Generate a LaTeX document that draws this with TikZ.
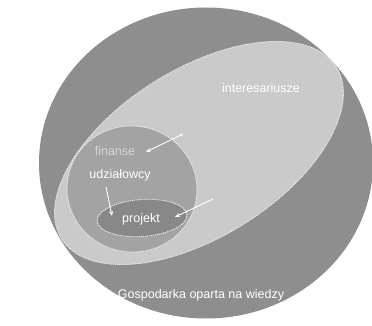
\documentclass[tikz,border=0pt]{standalone}
\usepackage{fontspec}
\setmainfont{Liberation Sans}
\usetikzlibrary{positioning,arrows.meta,shapes.geometric}
\definecolor{economyGray}{HTML}{8E8E8E}
\definecolor{stakeGray}{HTML}{CACACA}
\definecolor{shareGray}{HTML}{A3A3A3}
\definecolor{projectGray}{HTML}{888888}
\definecolor{labelGray}{HTML}{D6D6D6}

\begin{document}
\begin{tikzpicture}[
    x=1pt, y=-1pt,
    zone/.style={ellipse, inner sep=0pt, outer sep=0pt, fill=#1},
    rim/.style={draw=white!92!black, dash pattern=on 1.2pt off 0.8pt, line width=0.9pt},
    label/.style={text=#1, font=\fontsize{12.5}{14}\selectfont, inner sep=1pt},
    label/.default=white,
    arrow/.style={-{Stealth[length=5pt, width=4pt]}, white, line width=0.9pt}
  ]
  \useasboundingbox[fill=white] (0,0) rectangle (372,326);

  % nested regions
  \node[zone=economyGray, minimum width=334pt, minimum height=311pt] (E) at (206,163) {};
  \node[zone=stakeGray, rim, minimum width=324pt, minimum height=168pt, rotate=32] (I) at (199,153) {};
  \node[zone=shareGray, rim, minimum width=130pt, minimum height=126pt, rotate=-10] (U) at (132,189) {};
  \node[zone=projectGray, rim, minimum width=90pt, minimum height=37pt, rotate=4] (P) at (142,218) {};

  % labels
  \node[label] (Il) at (261,88) {interesariusze};
  \node[label=labelGray] (Fl) at (115,151) {finanse};
  \node[label] (Ul) at (120,175) {udziałowcy};
  \node[label] (Pl) at (141,219) {projekt};
  \node[label] (El) at (201,295) {Gospodarka oparta na wiedzy};

  % flows
  \coordinate (a1) at (183,134);
  \coordinate (b1) at (146,152);
  \coordinate (a2) at (106,187);
  \coordinate (b2) at (112,216);
  \coordinate (a3) at (213,199);
  \coordinate (b3) at (175,217);
  \draw[arrow, {Stealth[length=3pt, width=3pt]}-{Stealth[length=5pt, width=4pt]}] (a1) -- (b1);
  \draw[arrow] (a2) -- (b2);
  \draw[arrow] (a3) -- (b3);
\end{tikzpicture}
\end{document}
